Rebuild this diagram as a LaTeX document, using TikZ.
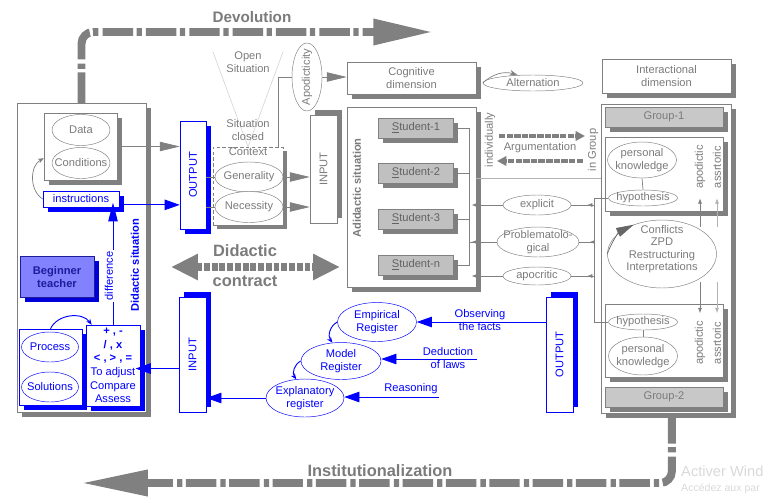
\documentclass[tikz,border=0pt]{standalone}
\usepackage{fontspec}
\setmainfont{Liberation Sans}
\usetikzlibrary{shapes.geometric,arrows.meta,fit,shadows,decorations.markings}
\definecolor{gr}{HTML}{808080}
\definecolor{gtx}{HTML}{7B7B7B}
\definecolor{stud}{HTML}{C0C0C0}
\definecolor{hdr}{HTML}{C8C8C8}
\definecolor{btfill}{HTML}{8282FF}
\definecolor{btdark}{HTML}{1C1C9C}
\begin{document}
\begin{tikzpicture}[x=0.03cm, y=-0.03cm, font=\fontsize{9.5}{11}\selectfont]
    \tikzset{
        gtext/.style={text=gtx, align=center, inner sep=1pt},
        btext/.style={text=blue, align=center, inner sep=1pt},
        bfnt/.style={font=\fontsize{9.5}{11}\selectfont\bfseries},
        bigfnt/.style={font=\fontsize{#1}{#1}\selectfont\bfseries, text=gtx},
        gbox/.style={draw=gr, fill=white, inner sep=0pt, drop shadow={shadow xshift=4pt, shadow yshift=#1, fill=gr, opacity=1}},
        gbox/.default=-4pt,
        bbox/.style={draw=blue, fill=white, inner sep=0pt, drop shadow={shadow xshift=4pt, shadow yshift=#1, fill=blue, opacity=1}},
        bbox/.default=-4pt,
        gell/.style={ellipse, draw=gr, fill=white, inner sep=0pt, label={[gtext]center:#1}},
        bell/.style={ellipse, draw=blue, fill=white, inner sep=0pt, label={[btext]center:#1}},
        sbox/.style={gbox, fill=stud, text=gtx!80!black, minimum width=2.25cm, minimum height=0.6cm},
        gline/.style={draw=gr, line width=0.6pt},
        bline/.style={draw=blue, line width=0.8pt},
        garr/.style={gline, -{Triangle[length=17pt, width=8pt]}},
        barr/.style={bline, -{Triangle[length=13pt, width=9pt]}},
        sarr/.style={gline, -{Latex[length=4.5pt, width=3.5pt]}},
        midarr/.style={postaction={decorate}, decoration={markings, mark=at position 0.3 with {\arrow{Latex[length=4.5pt, width=3.5pt]}}}},
        bigarr/.style={draw=gr, line width=6.8pt, dash pattern=on 26pt off 3pt on 4.5pt off 3.5pt, rounded corners=10pt},
        dcarr/.style={draw=gr, line width=6.8pt, dash pattern=on 5pt off 1.6pt, {Triangle[length=23pt, width=21pt]}-{Triangle[length=23pt, width=21pt]}},
        argarr/.style={draw=gr, line width=3.4pt, dash pattern=on 5.5pt off 1pt, -{Triangle[length=8pt, width=8pt]}},
    }
    \useasboundingbox (0,0) rectangle (768,502);

    \node[gbox, fit={(17,103) (146,412)}] (lbox) {};
    \node[gbox, fit={(44,113) (117,180)}] (dcbox) {};
    \node[gell=Data, minimum width=1.74cm, minimum height=0.93cm] (data) at (81,130) {};
    \node[gell=Conditions, minimum width=1.74cm, minimum height=0.93cm] (cond) at (81,163) {};
    \node[bbox, fit={(43,191) (119,207)}, label={[btext]center:instructions}] (instr) {};
    \node[draw=btdark, fill=btfill, text=btdark, bfnt, align=center, minimum width=2.22cm, minimum height=1.23cm, drop shadow={shadow xshift=4pt, shadow yshift=-4pt, fill=blue!85!black, opacity=1}] (teach) at (57,277) {Beginner\\teacher};
    \node[bbox, fit={(19,329) (82,405)}] (psbox) {};
    \node[bell=Process, minimum width=1.71cm, minimum height=0.9cm] (proc) at (50,347) {};
    \node[bell=Solutions, minimum width=1.71cm, minimum height=0.9cm] (sol) at (50,387) {};
    \node[bbox, fit={(86,325) (140,406)}] (ops) {};
    \node[btext, inner sep=0pt, font=\fontsize{9.5}{11.6}\selectfont] (opst) at (ops.center) {\textbf{+ , -}\\\textbf{/ , x}\\\textbf{< , > , =}\\To adjust\\Compare\\Assess};
    \draw[bline, -{Stealth[length=5pt, width=4pt]}] (psbox.north) to[bend left=60] ([xshift=5pt]ops.north west);
    \draw[bline, -{Triangle[length=16pt, width=8pt]}, shorten >=-4pt] (ops.north) -- (ops.north |- instr.south);
    \node[btext, rotate=90, fill=white] (diff) at (109,276) {difference};
    \node[btext, bfnt, rotate=90] (dsit) at (135,265) {Didactic situation};

    \node[bbox, fit={(180,121) (206,229)}, label={[btext, rotate=90]center:OUTPUT}] (out1) {};
    \draw[garr] (dcbox.east) -- (dcbox.east -| out1.west);
    \draw[barr] ([yshift=-5pt]instr.east) -- ([yshift=-5pt]instr.east -| out1.west);
    \draw[gline, -{Stealth[length=5pt, width=4pt]}] (instr.west) to[bend left=60] ([yshift=-10pt]dcbox.west);

    \coordinate (vl1) at (213,52);
    \coordinate (vr1) at (283,52);
    \node[draw=gr, densely dashed, fill=white, inner sep=0pt, fit={(213,147) (283,225)}, drop shadow={shadow xshift=3pt, shadow yshift=-3pt, fill=gr, opacity=1}] (ctx) {};
    \draw[gray!35, line width=0.5pt] (vl1) -- (ctx.north) -- (vr1);
    \node[gtext] (open) at (248,62) {Open\\Situation};
    \node[gtext] (closed) at (248,130) {Situation\\closed};
    \node[gtext, below] (ctxt) at (ctx.north) {Context};
    \node[gell=Generality, minimum width=2.04cm, minimum height=0.9cm] (gen) at (249,177) {};
    \node[gell=Necessity, minimum width=2.04cm, minimum height=0.93cm] (nec) at (249,207) {};
    \draw[gline] (out1.east |- gen) -- (gen.west);
    \draw[gline] (out1.east |- nec) -- (nec.west);
    \node[ellipse, draw=gr, fill=white, inner sep=0pt, minimum width=0.9cm, minimum height=2.04cm, label={[gtext, rotate=90]center:Apodicticity}] (apod) at (307,77) {};
    \draw[gline] ([xshift=-4pt]ctx.north east) |- (apod.west);
    \node[gbox, fit={(347,62) (476,94)}, label={[gtext]center:Cognitive\\dimension}] (cog) {};
    \draw[garr] (apod.east) -- (apod.east -| cog.west);
    \node[gbox=4pt, fit={(310,115) (337,223)}, label={[gtext, rotate=90]center:INPUT}] (in1) {};
    \draw[garr] (gen.east) -- (gen.east -| in1.west);
    \draw[garr] (nec.east) -- (nec.east -| in1.west);

    \node[gell=Alternation, minimum width=3cm, minimum height=0.48cm] (alt) at (533,83) {};
    \draw[gline, -{Stealth[length=7pt, width=5pt]}] (alt.west) to[bend left=30] (alt.153);
    \node[gbox, fit={(602,59) (731,93)}, label={[gtext]center:Interactional\\dimension}] (inter) {};

    \node[gbox, fit={(347,107) (476,287)}] (adid) {};
    \node[gtext, bfnt, rotate=90] (adt) at (357,188) {Adidactic situation};
    \node[sbox] (s1) at (416,128) {\underline{S}tudent-1};
    \node[sbox] (s2) at (416,173) {\underline{S}tudent-2};
    \node[sbox] (s3) at (416,219) {\underline{S}tudent-3};
    \node[sbox] (sn) at (416,265) {\underline{S}tudent-n};
    \coordinate (brk) at (469,242);
    \draw[gline] (s1.east) -| (brk) -- (brk -| adid.east);
    \draw[gline] (s2.east) -| (brk);
    \draw[gline] (s3.east) -| (brk);
    \draw[gline] (sn.east) -| (brk);

    \node[gbox, fit={(601,104) (731,413)}] (grp) {};
    \node[gbox, fill=hdr, fit={(605,107) (723,127)}, label={[gtext]center:Group-1}] (g1) {};
    \node[gbox, fit={(605,137) (723,211)}] (up) {};
    \node[gell={personal\\knowledge}, minimum width=2.07cm, minimum height=1.08cm] (pk1) at (642,160) {};
    \node[gell=hypothesis, minimum width=2.07cm, minimum height=0.48cm] (hyp1) at (643,198) {};
    \draw[gline] (pk1.south) -- (hyp1.north);
    \node[gtext, rotate=90] (apd1) at (700,167) {apodictic};
    \node[gtext, rotate=90] (ass1) at (717,167) {assrtoric};
    \node[gell={}, minimum width=3.27cm, minimum height=2.04cm] (conf) at (662,254) {};
    \node[gtext, font=\fontsize{9.5}{10.6}\selectfont] (conft) at (662,249) {Conflicts\\ZPD\\Restructuring\\Interpretations};
    \draw[gline, draw=gr!80!black, -{Triangle[length=15pt, width=8pt]}] (conf.west) to[bend left=22] (conf.134);
    \node[gbox, fit={(605,304) (723,377)}] (lo) {};
    \node[gell=hypothesis, minimum width=2.07cm, minimum height=0.48cm] (hyp2) at (643,322) {};
    \node[gell={personal\\knowledge}, minimum width=2.07cm, minimum height=1.14cm] (pk2) at (643,356) {};
    \draw[gline] (hyp2.south) -- (pk2.north);
    \node[gtext, rotate=90] (apd2) at (700,343) {apodictic};
    \node[gtext, rotate=90] (ass2) at (717,343) {assrtoric};
    \node[gbox, fill=hdr, fit={(605,387) (723,407)}, label={[gtext]center:Group-2}] (g2) {};
    \draw[sarr] ([yshift=-6pt]conf.north -| apd1) -- ([yshift=11pt]up.south -| apd1);
    \draw[sarr, draw=gr!60] ([yshift=-6pt]conf.north -| ass1) -- ([yshift=11pt]up.south -| ass1);
    \draw[sarr] ([yshift=5pt]conf.south -| apd2) -- ([yshift=-8pt]lo.north -| apd2);
    \draw[sarr, draw=gr!60] ([yshift=5pt]conf.south -| ass2) -- ([yshift=-8pt]lo.north -| ass2);

    \coordinate (a1) at (499,136);
    \coordinate (a2) at (585,136);
    \coordinate (a3) at (583,161);
    \coordinate (a4) at (497,161);
    \node[gtext, rotate=90] (indiv) at (490,140) {individually};
    \draw[argarr] (a1) -- (a2);
    \draw[argarr] (a3) -- (a4);
    \node[gtext] (argt) at (540,148) {Argumentation};
    \node[gtext, rotate=90] (ingr) at (593,150) {in Group};
    \coordinate (sep) at (0,178);
    \draw[gline, draw=gr!60] (adid.east |- sep) -- (grp.west |- sep);

    \node[gell=explicit, minimum width=2.04cm, minimum height=0.6cm] (expl) at (537,205) {};
    \node[gell={Problematolo-\\gical}, minimum width=2.46cm, minimum height=0.9cm] (prob) at (538,242) {};
    \node[gell=apocritic, minimum width=2.04cm, minimum height=0.54cm] (apoc) at (537,276) {};
    \coordinate (vl) at (594,250);
    \draw[gline] (hyp1.west) -| (vl) |- (hyp2.west);
    \foreach \e in {expl, prob, apoc} {
        \draw[sarr, shorten >=-4pt] (\e.west) -- (\e.west -| adid.east);
        \draw[gline, midarr] (vl |- \e) -- (\e.east);
    }

    \node[bbox=4pt, fit={(546,297) (573,412)}, label={[btext, rotate=90]center:OUTPUT}] (out2) {};
    \node[bell={Empirical\\Register}, minimum width=2.37cm, minimum height=1.17cm] (emp) at (377,322) {};
    \node[bell={Model\\Register}, minimum width=2.4cm, minimum height=1.11cm] (model) at (341,361) {};
    \node[bell={Explanatory\\register}, minimum width=2.34cm, minimum height=1.14cm] (expn) at (305,398) {};
    \node[bbox=4pt, fit={(179,297) (206,412)}, label={[btext, rotate=90]center:INPUT}] (in2) {};
    \draw[barr] (out2.west |- emp) -- (emp.east);
    \node[btext] (obs) at (480,320) {Observing\\the facts};
    \coordinate (ded) at (477,359);
    \draw[barr] (ded) -- (ded -| model.east);
    \node[btext] (dedt) at (448,358) {Deduction\\of laws};
    \coordinate (rea) at (439,397);
    \draw[barr] (rea) -- (rea -| expn.east);
    \node[btext] (reat) at (411,389) {Reasoning};
    \draw[bline, -{Stealth[length=5pt, width=4pt]}] (emp.west) to[bend right=50] (model.115);
    \draw[bline, -{Stealth[length=5pt, width=4pt]}] (model.west) to[bend right=50] (expn.115);
    \draw[barr] (expn.west) -- (expn.west -| in2.east);
    \draw[barr, shorten >=-4pt] ([yshift=-12pt]in2.west) -- ([yshift=-12pt]in2.west -| ops.east);

    \coordinate (dcl) at (171,267);
    \coordinate (dcr) at (340,267);
    \draw[dcarr] (dcl) -- (dcr);
    \node[bigfnt=14] (didt) at (245,251) {Didactic};
    \node[bigfnt=14] (cont) at (245,281) {contract};

    \coordinate (devend) at (433,32);
    \draw[bigarr, -{Triangle[length=51pt, width=21pt]}] (lbox.north) |- (devend);
    \node[bigfnt=13] (devt) at (252,17) {Devolution};
    \coordinate (instend) at (81,483);
    \draw[bigarr, -{Triangle[length=57pt, width=21pt]}] ([xshift=5pt]grp.south) |- (instend);
    \node[bigfnt=14] (instt) at (380,471) {Institutionalization};

    \node[anchor=west, inner sep=0pt, text=gray!30, font=\fontsize{12.5}{13}\selectfont] (wm1) at (681,471) {Activer Wind};
    \node[anchor=west, inner sep=0pt, text=gray!30, font=\fontsize{9}{10}\selectfont] (wm2) at (681,489) {Accédez aux par};
\end{tikzpicture}
\end{document}
